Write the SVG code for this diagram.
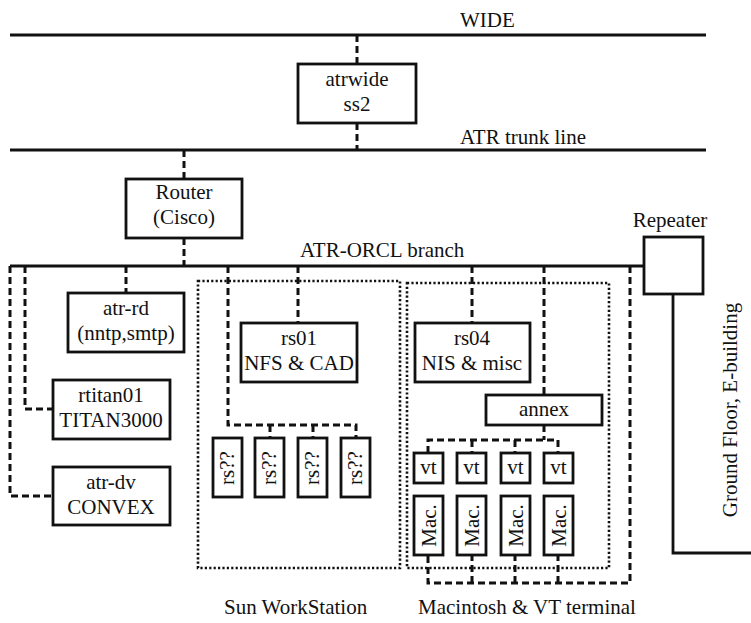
<svg xmlns="http://www.w3.org/2000/svg" width="751" height="623" viewBox="0 0 751 623">
<style>
text{font-family:"Liberation Serif","Times New Roman",serif;font-size:21px;fill:#111;}
.c{text-anchor:middle;}
.box{fill:#fff;stroke:#111;stroke-width:2.8;}
.solid{fill:none;stroke:#111;stroke-width:2.8;}
.dash{fill:none;stroke:#111;stroke-width:3;stroke-dasharray:7 4;}
.dot{fill:none;stroke:#111;stroke-width:2.6;stroke-dasharray:2.2 2.2;}
</style>
<rect width="751" height="623" fill="#fff"/>

<g id="networks">
  <line class="solid" x1="10" y1="35" x2="706" y2="35"/>
  <text x="460" y="27">WIDE</text>
  <line class="solid" x1="10" y1="150" x2="706" y2="150"/>
  <text x="460" y="144">ATR trunk line</text>
  <line class="solid" x1="10" y1="266" x2="644" y2="266"/>
  <text x="300" y="257">ATR-ORCL branch</text>
</g>

<g id="groups">
  <rect class="dot" x="198" y="281" width="202" height="287"/>
  <text x="224" y="614">Sun WorkStation</text>
  <rect class="dot" x="407" y="283" width="202" height="285"/>
  <text x="418" y="614">Macintosh &amp; VT terminal</text>
</g>

<g id="connectors">
  <line class="dash" x1="357" y1="35" x2="357" y2="64"/>
  <line class="dash" x1="357" y1="123" x2="357" y2="150"/>
  <line class="dash" x1="184" y1="150" x2="184" y2="179"/>
  <line class="dash" x1="184" y1="238" x2="184" y2="266"/>
  <line class="dash" x1="126" y1="266" x2="126" y2="293"/>
  <polyline class="dash" points="25,266 25,409 53,409"/>
  <polyline class="dash" points="10,266 10,496 53,496"/>
  <line class="dash" x1="298" y1="266" x2="298" y2="323"/>
  <polyline class="dash" points="228,266 228,425 356,425 356,438"/>
  <line class="dash" x1="270" y1="425" x2="270" y2="438"/>
  <line class="dash" x1="313" y1="425" x2="313" y2="438"/>
  <line class="dash" x1="472" y1="266" x2="472" y2="323"/>
  <line class="dash" x1="544" y1="266" x2="544" y2="395"/>
  <line class="dash" x1="544" y1="425" x2="544" y2="440"/>
  <polyline class="dash" points="428,453 428,440 558,440 558,453"/>
  <line class="dash" x1="472" y1="440" x2="472" y2="453"/>
  <line class="dash" x1="515" y1="440" x2="515" y2="453"/>
  <polyline class="dash" points="630,266 630,583 428,583 428,555"/>
  <line class="dash" x1="472" y1="583" x2="472" y2="555"/>
  <line class="dash" x1="515" y1="583" x2="515" y2="555"/>
  <line class="dash" x1="558" y1="583" x2="558" y2="555"/>
  <polyline class="solid" points="673,294 673,553 751,553"/>
</g>

<g id="atrwide">
  <rect class="box" x="298" y="64" width="118" height="59"/>
  <text class="c" x="357" y="86">atrwide</text>
  <text class="c" x="357" y="111">ss2</text>
</g>
<g id="router">
  <rect class="box" x="126" y="179" width="116" height="59"/>
  <text class="c" x="184" y="199">Router</text>
  <text class="c" x="184" y="224">(Cisco)</text>
</g>
<g id="repeater">
  <rect class="box" x="644" y="237" width="59" height="57"/>
  <text class="c" x="670" y="227">Repeater</text>
</g>
<g id="ground-floor">
  <text class="c" transform="translate(737,410) rotate(-90)">Ground Floor, E-building</text>
</g>
<g id="atr-rd">
  <rect class="box" x="68" y="293" width="116" height="59"/>
  <text class="c" x="126" y="315">atr-rd</text>
  <text class="c" x="126" y="340">(nntp,smtp)</text>
</g>
<g id="rtitan01">
  <rect class="box" x="53" y="380" width="117" height="59"/>
  <text class="c" x="111" y="402">rtitan01</text>
  <text class="c" x="111" y="427">TITAN3000</text>
</g>
<g id="atr-dv">
  <rect class="box" x="53" y="467" width="117" height="58"/>
  <text class="c" x="111" y="489">atr-dv</text>
  <text class="c" x="111" y="514">CONVEX</text>
</g>
<g id="rs01">
  <rect class="box" x="241" y="323" width="116" height="59"/>
  <text class="c" x="299" y="345">rs01</text>
  <text class="c" x="299" y="370">NFS &amp; CAD</text>
</g>
<g id="rs04">
  <rect class="box" x="415" y="323" width="115" height="59"/>
  <text class="c" x="472" y="345">rs04</text>
  <text class="c" x="472" y="370">NIS &amp; misc</text>
</g>
<g id="annex">
  <rect class="box" x="486" y="395" width="116" height="30"/>
  <text class="c" x="544" y="416">annex</text>
</g>
<g id="rs-1">
  <rect class="box" x="213" y="438" width="29" height="59"/>
  <text class="c" transform="translate(234,468) rotate(-90)">rs??</text>
</g>
<g id="rs-2">
  <rect class="box" x="255" y="438" width="29" height="59"/>
  <text class="c" transform="translate(276,468) rotate(-90)">rs??</text>
</g>
<g id="rs-3">
  <rect class="box" x="298" y="438" width="29" height="59"/>
  <text class="c" transform="translate(319,468) rotate(-90)">rs??</text>
</g>
<g id="rs-4">
  <rect class="box" x="341" y="438" width="29" height="59"/>
  <text class="c" transform="translate(362,468) rotate(-90)">rs??</text>
</g>
<g id="vt-1">
  <rect class="box" x="414" y="453" width="29" height="30"/>
  <text class="c" x="428.5" y="474">vt</text>
</g>
<g id="vt-2">
  <rect class="box" x="457" y="453" width="29" height="30"/>
  <text class="c" x="471.5" y="474">vt</text>
</g>
<g id="vt-3">
  <rect class="box" x="501" y="453" width="29" height="30"/>
  <text class="c" x="515.5" y="474">vt</text>
</g>
<g id="vt-4">
  <rect class="box" x="544" y="453" width="29" height="30"/>
  <text class="c" x="558.5" y="474">vt</text>
</g>
<g id="mac-1">
  <rect class="box" x="414" y="496" width="29" height="59"/>
  <text class="c" transform="translate(436,525.5) rotate(-90)">Mac.</text>
</g>
<g id="mac-2">
  <rect class="box" x="457" y="496" width="29" height="59"/>
  <text class="c" transform="translate(479,525.5) rotate(-90)">Mac.</text>
</g>
<g id="mac-3">
  <rect class="box" x="501" y="496" width="29" height="59"/>
  <text class="c" transform="translate(523,525.5) rotate(-90)">Mac.</text>
</g>
<g id="mac-4">
  <rect class="box" x="544" y="496" width="29" height="59"/>
  <text class="c" transform="translate(566,525.5) rotate(-90)">Mac.</text>
</g>
</svg>
